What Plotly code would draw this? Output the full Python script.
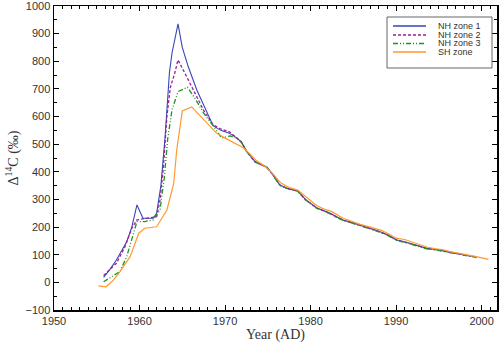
import plotly.graph_objects as go

# ---------------- data ----------------
years_nh1 = [1955.8, 1956.5, 1957.3, 1958.0, 1958.5, 1959.1, 1959.7, 1960.4, 1961.0, 1961.6,
             1962.0, 1962.5, 1963.0, 1963.5, 1963.8, 1964.5, 1965.0, 1965.7, 1966.7, 1967.9,
             1968.6, 1969.5, 1970.5, 1971.4, 1971.9, 1972.5, 1973.5, 1974.3, 1974.9, 1975.6,
             1976.4, 1977.3, 1978.5, 1979.4, 1980.7, 1981.5, 1982.3, 1983.0, 1983.8, 1984.8,
             1985.8, 1986.8, 1988.0, 1989.0, 1990.1, 1991.0, 1991.6, 1992.5, 1993.6, 1994.5,
             1995.5, 1996.3, 1997.1, 1998.3, 1999.4]
nh_zone1 = [18, 45, 81, 118, 147, 200, 280, 232, 232, 232,
            250, 350, 530, 760, 830, 935, 850, 780, 696, 611,
            567, 550, 540, 522, 508, 476, 437, 425, 417, 390,
            352, 340, 331, 300, 270, 260, 250, 238, 226, 217,
            207, 196, 185, 172, 153, 147, 141, 133, 123, 120,
            115, 110, 105, 98, 92]

years_nh2 = [1955.8, 1956.5, 1957.3, 1958.3, 1959.1, 1959.7, 1960.4, 1961.2, 1962.0, 1962.4,
             1962.8, 1963.2, 1963.6, 1964.1, 1964.5, 1965.5, 1966.5, 1967.5, 1968.6, 1969.5,
             1970.5, 1971.4, 1971.9, 1972.5, 1973.5, 1974.3, 1974.9, 1975.6, 1976.4, 1977.3,
             1978.5, 1979.4, 1980.7, 1981.5, 1982.3, 1983.0, 1983.8, 1984.8, 1985.8, 1986.8,
             1988.0, 1989.0, 1990.1, 1991.0, 1991.6, 1992.5, 1993.6, 1994.5, 1995.5, 1996.3,
             1997.1, 1998.3, 1999.4]
nh_zone2 = [25, 45, 69, 129, 196, 226, 230, 232, 238, 298,
            420, 600, 705, 755, 805, 745, 685, 622, 570, 555,
            545, 524, 509, 474, 436, 426, 416, 389, 353, 339,
            330, 299, 269, 259, 249, 237, 225, 216, 206, 195,
            184, 171, 152, 146, 140, 132, 122, 119, 114, 109,
            104, 97, 91]

years_nh3 = [1955.8, 1956.7, 1957.7, 1958.5, 1959.3, 1959.7, 1960.6, 1961.6, 1962.4, 1962.9,
             1963.3, 1963.8, 1964.5, 1965.6, 1966.5, 1967.5, 1968.6, 1969.6, 1970.6, 1971.4,
             1971.9, 1972.5, 1973.5, 1974.3, 1974.9, 1975.6, 1976.4, 1977.3, 1978.5, 1979.4,
             1980.7, 1981.5, 1982.3, 1983.0, 1983.8, 1984.8, 1985.8, 1986.8, 1988.0, 1989.0,
             1990.1, 1991.0, 1991.6, 1992.5, 1993.6, 1994.5, 1995.5, 1996.3, 1997.1, 1998.3,
             1999.4]
nh_zone3 = [2, 20, 39, 93, 178, 220, 220, 226, 262, 380,
            520, 625, 690, 706, 665, 612, 567, 522, 530, 521,
            507, 475, 436, 424, 416, 389, 351, 339, 330, 299,
            268, 258, 248, 236, 224, 215, 205, 194, 183, 170,
            151, 145, 139, 131, 121, 118, 113, 108, 103, 96,
            90]

years_sh = [1955.2, 1956.1, 1957.0, 1957.7, 1958.9, 1959.9, 1960.6, 1962.0, 1963.2, 1964.0,
            1964.35, 1964.7, 1965.0, 1966.1, 1967.7, 1969.0, 1970.0, 1971.0, 1972.1, 1972.9,
            1973.6, 1974.5, 1975.5, 1976.5, 1977.5, 1978.5, 1979.5, 1980.7, 1981.5, 1982.5,
            1983.8, 1984.8, 1985.8, 1987.0, 1988.3, 1989.2, 1990.0, 1991.0, 1991.5, 1992.5,
            1993.6, 1994.5, 1995.5, 1996.3, 1997.1, 1998.3, 1999.4, 2000.8]
sh_zone = [-13, -16, 10, 38, 93, 177, 196, 201, 262, 358,
           479, 560, 620, 635, 581, 540, 522, 505, 488, 465,
           442, 424, 396, 360, 343, 334, 307, 278, 266, 256,
           232, 220, 210, 200, 188, 174, 160, 155, 150, 138,
           128, 122, 118, 111, 107, 100, 93, 83]

series_names = ["NH zone 1", "NH zone 2", "NH zone 3", "SH zone"]
x_tick_vals = [1950, 1960, 1970, 1980, 1990, 2000]
y_tick_vals = [-100, 0, 100, 200, 300, 400, 500, 600, 700, 800, 900, 1000]

# ---------------- figure ----------------
W, H = 501, 345
ML, MR, MT, MB = 54, 4, 6, 35
PW, PH = W - ML - MR, H - MT - MB

def px_x(p):  # pixel -> paper
    return (p - ML) / PW

def px_y(p):
    return (H - MB - p) / PH

fig = go.Figure()
styles = [
    dict(color="#3646b4", width=1.1, dash="solid"),
    dict(color="#9a1f9a", width=1.3, dash="3px,2px"),
    dict(color="#1f921f", width=1.3, dash="5px,2px,1px,2px,1px,2px"),
    dict(color="#ff9a2e", width=1.2, dash="solid"),
]
for xs, ys, name, st in zip([years_nh1, years_nh2, years_nh3, years_sh],
                            [nh_zone1, nh_zone2, nh_zone3, sh_zone],
                            series_names, styles):
    fig.add_trace(go.Scatter(x=xs, y=ys, mode="lines", name=name, line=st,
                             showlegend=False, hoverinfo="skip"))

axis_common = dict(
    showline=True, linecolor="black", linewidth=1.5, mirror="allticks",
    ticks="inside", ticklen=5, tickwidth=1, tickcolor="black",
    showgrid=False, zeroline=False, automargin=False,
    ticklabeloverflow="allow",
    tickfont=dict(family="Liberation Sans, Arial", size=11, color="#333"),
    title_font=dict(family="Liberation Serif, Times New Roman", size=14, color="#333"),
)

fig.update_xaxes(
    **axis_common,
    range=[1950, 2001.8], tickvals=x_tick_vals,
    minor=dict(dtick=1, ticklen=3, ticks="inside", tickcolor="black"),
    title_text="Year (AD)", title_standoff=2,
)
fig.update_yaxes(
    **axis_common,
    range=[-100, 1000], tickvals=y_tick_vals,
    minor=dict(dtick=50, ticklen=3, ticks="inside", tickcolor="black"),
    title_text="Δ<sup>14</sup>C (‰)", title_standoff=3,
)

# legend box drawn by hand (compact, like the reference)
shapes = [dict(type="rect", xref="paper", yref="paper",
               x0=px_x(387), x1=px_x(492), y0=px_y(68), y1=px_y(17),
               line=dict(color="#666", width=1), fillcolor="white", layer="above")]
annotations = []
leg_y = [26, 35, 43.5, 52]
for yy, name, st in zip(leg_y, series_names, styles):
    shapes.append(dict(type="line", xref="paper", yref="paper",
                       x0=px_x(393), x1=px_x(426), y0=px_y(yy), y1=px_y(yy),
                       line=dict(color=st["color"], width=st["width"] + 0.3, dash=st["dash"]),
                       layer="above"))
    annotations.append(dict(xref="paper", yref="paper", x=px_x(437), y=px_y(yy),
                            xanchor="left", yanchor="middle", showarrow=False,
                            text=name, borderpad=0,
                            font=dict(family="Liberation Sans, Arial", size=9, color="#333")))

fig.update_layout(
    width=W, height=H,
    margin=dict(l=ML, r=MR, t=MT, b=MB),
    paper_bgcolor="white", plot_bgcolor="white",
    shapes=shapes, annotations=annotations,
    showlegend=False, hovermode=False,
)

fig.write_html("out.html",
               config={"displayModeBar": False, "staticPlot": True},
               post_script="document.body.style.margin='0';document.body.style.overflow='hidden';")
